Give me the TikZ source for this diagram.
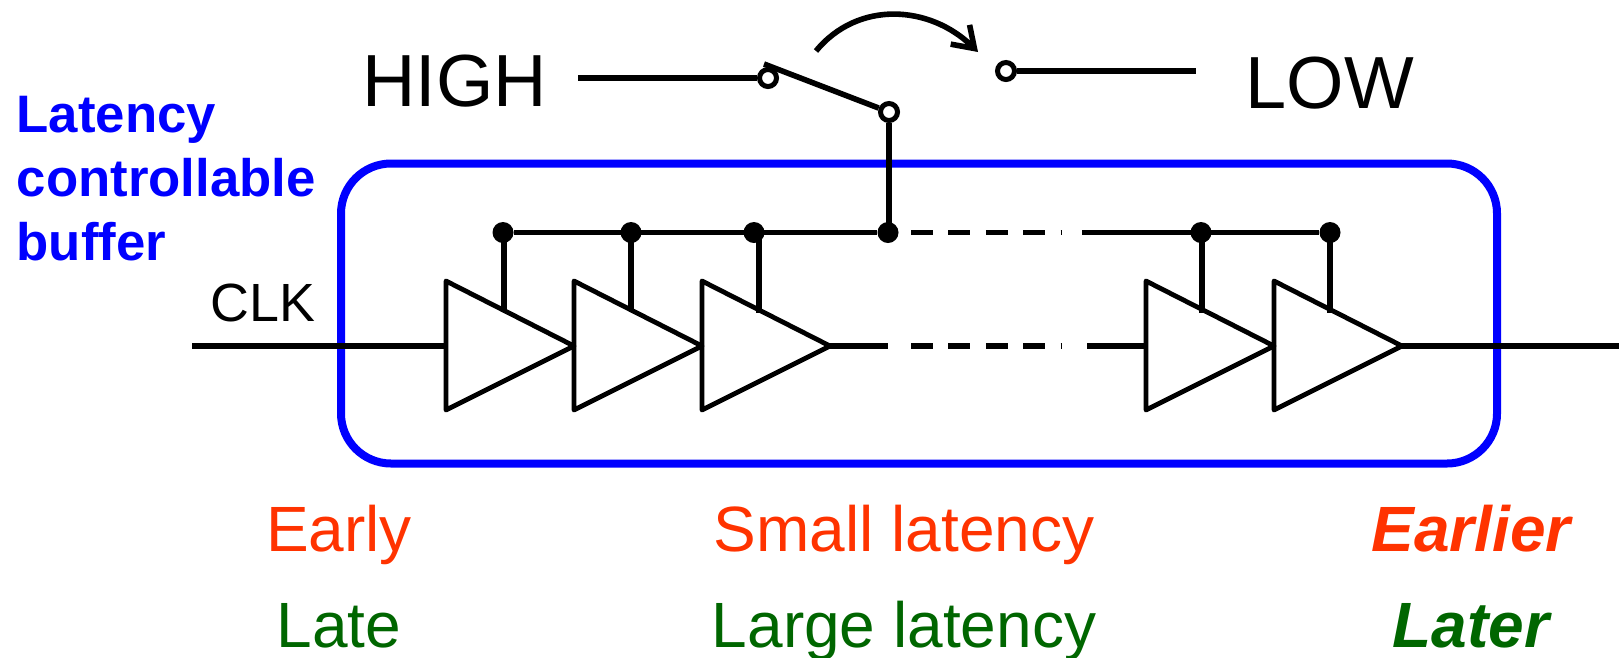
\documentclass[tikz,border=0pt]{standalone}
\usepackage{fontspec}
\setmainfont{Liberation Sans}
\usetikzlibrary{arrows.meta}
\definecolor{earlyred}{RGB}{255,51,0}
\definecolor{lategreen}{RGB}{0,102,0}
\tikzset{
wire/.style={line width=0.056cm,black},
buf/.style={line width=0.048cm,line join=round,black},
dot/.style={circle,fill=black,inner sep=0pt,minimum size=0.21cm},
contact/.style={circle,draw=black,fill=white,line width=0.05cm,inner sep=0pt,minimum size=0.17cm},
lbl/.style={inner sep=0pt,anchor=base},
}
\begin{document}
\begin{tikzpicture}[x=0.01cm,y=-0.01cm]
\useasboundingbox (0,0) rectangle (1619,657);
\draw[blue,line width=0.08cm,rounded corners=0.5cm] (341,163.5) rectangle (1497,463.5);
\node[lbl,anchor=base west,blue,font=\fontsize{15}{15}\selectfont\bfseries] (txta) at (16,132) {Latency};
\node[lbl,anchor=base west,blue,font=\fontsize{15}{15}\selectfont\bfseries] (txtb) at (16,196) {controllable};
\node[lbl,anchor=base west,blue,font=\fontsize{15}{15}\selectfont\bfseries] (txtc) at (16,260) {buffer};
\node[lbl,font=\fontsize{15.3}{15}\selectfont] (clk) at (263,321) {CLK};
\node[lbl,font=\fontsize{21}{21}\selectfont] (high) at (454.5,106) {HIGH};
\node[lbl,font=\fontsize{21}{21}\selectfont] (low) at (1330,108) {LOW};
\node[lbl,earlyred,font=\fontsize{18.2}{18}\selectfont] (early) at (339,551) {Early};
\node[lbl,earlyred,font=\fontsize{18.2}{18}\selectfont] (small) at (904,551) {Small latency};
\node[lbl,earlyred,font=\fontsize{18.2}{18}\selectfont\bfseries\itshape] (earlier) at (1471,551) {Earlier};
\node[lbl,lategreen,font=\fontsize{18.2}{18}\selectfont] (late) at (339,647) {Late};
\node[lbl,lategreen,font=\fontsize{18.2}{18}\selectfont] (large) at (904,647) {Large latency};
\node[lbl,lategreen,font=\fontsize{18.2}{18}\selectfont\bfseries\itshape] (later) at (1471,647) {Later};
% buffers
\foreach \n/\x in {1/446,2/574,3/702,4/1146,5/1274} {
\draw[buf] (\x,281) -- (\x,410) -- (\x+128,346) -- cycle;
\coordinate (in\n) at (\x,346);
\coordinate (out\n) at (\x+128,346);
}
\coordinate (clkin) at (192,346);
\coordinate (clkout) at (1619,346);
\coordinate (midl) at (888,346);
\coordinate (midr) at (1087,346);
\coordinate (dasha) at (911,346);
\coordinate (dashb) at (1062,346);
\draw[wire] (clkin) -- (in1);
\draw[wire] (out3) -- (midl);
\draw[wire,dash pattern=on 0.22cm off 0.154cm] (dasha) -- (dashb);
\draw[wire] (midr) -- (in4);
\draw[wire] (out5) -- (clkout);
% bus
\foreach \n/\x in {1/503,2/631,3/754,4/888,5/1201,6/1330} {
\node[dot] (tap\n) at (\x,232.5) {};
}
\foreach \n/\x/\s in {1/504/309,2/631/311,3/759/313,5/1202/313,6/1330/313} {
\coordinate (st\n) at (\x,233);
\coordinate (en\n) at (\x,\s);
\draw[wire] (st\n) -- (en\n);
}
\coordinate (busa) at (911,232.5);
\coordinate (busb) at (1062,232.5);
\coordinate (busc) at (1082,232.5);
\draw[wire] (tap1) -- (tap4);
\draw[wire,dash pattern=on 0.22cm off 0.154cm] (busa) -- (busb);
\draw[wire] (busc) -- (tap6);
% switch
\node[contact] (hi) at (768,78) {};
\node[contact] (lo) at (1006,71) {};
\node[contact] (com) at (889,112) {};
\coordinate (hiend) at (578,78);
\coordinate (loend) at (1196,71);
\coordinate (blade) at (764,64);
\coordinate (arca) at (816,51);
\coordinate (arcb) at (978,52);
\coordinate (comend) at (889,232);
\draw[wire] (hiend) -- (hi);
\draw[wire] (lo) -- (loend);
\draw[wire] (blade) -- (com);
\draw[wire] (com) -- (comend);
\draw[wire,-{Straight Barb[length=0.2cm,width=0.27cm]}] (arca) .. controls (858,0) and (930,5) .. (arcb);
\end{tikzpicture}
\end{document}
